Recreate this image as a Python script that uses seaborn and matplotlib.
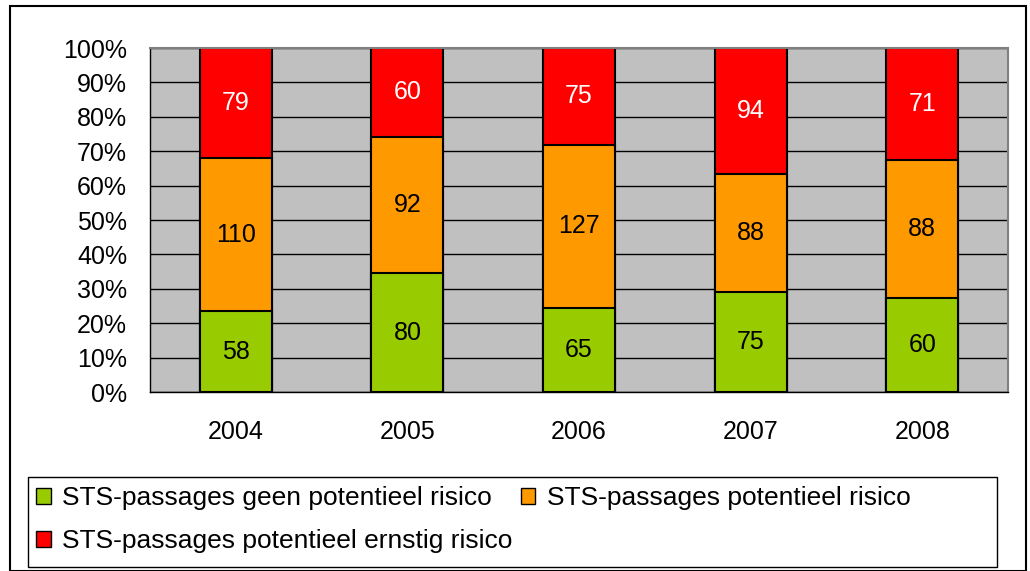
import numpy as np
import pandas as pd
import seaborn as sns
import matplotlib.pyplot as plt
from matplotlib.patches import Patch, Rectangle

# Data
years = ['2004', '2005', '2006', '2007', '2008']
geen = [58, 80, 65, 75, 60]
potentieel = [110, 92, 127, 88, 88]
ernstig = [79, 60, 75, 94, 71]
series_names = ['STS-passages geen potentieel risico',
                'STS-passages potentieel risico',
                'STS-passages potentieel ernstig risico']
kleuren = ['#99CC00', '#FF9900', '#FF0000']

sns.set_style('white')
plt.rcParams['font.family'] = ['Liberation Sans', 'DejaVu Sans']
plt.rcParams['text.color'] = 'black'

base = pd.DataFrame({'jaar': years, 'geen': geen, 'pot': potentieel, 'ernstig': ernstig})
totaal = base.geen + base.pot + base.ernstig
base['p_geen'] = base.geen / totaal * 100
base['p_pot'] = base.pot / totaal * 100
base['p_ernstig'] = base.ernstig / totaal * 100
base['cum1'] = base.p_geen
base['cum2'] = base.p_geen + base.p_pot
base['cum3'] = base.cum2 + base.p_ernstig

fig = plt.figure(figsize=(10.30, 5.71), dpi=100)
ax = fig.add_axes([150/1030, 1 - 392/571, (1008-150)/1030, (392-48)/571])
ax.set_facecolor('#C0C0C0')
ax.set_axisbelow(True)
ax.yaxis.grid(True, color='black', linewidth=1)

# gestapeld: eerst totaal, dan de lagere lagen eroverheen
sns.barplot(x='jaar', y='cum3', data=base, color=kleuren[2], width=0.42,
            edgecolor='black', linewidth=1.5, saturation=1, ax=ax)
sns.barplot(x='jaar', y='cum2', data=base, color=kleuren[1], width=0.42,
            edgecolor='black', linewidth=1.5, saturation=1, ax=ax)
sns.barplot(x='jaar', y='cum1', data=base, color=kleuren[0], width=0.42,
            edgecolor='black', linewidth=1.5, saturation=1, ax=ax)

# labels in de segmenten
fs = 18
for i in range(len(years)):
    ax.text(i, base.p_geen[i] / 2, str(geen[i]), ha='center', va='center',
            fontsize=fs, color='black')
    ax.text(i, base.cum1[i] + base.p_pot[i] / 2, str(potentieel[i]), ha='center',
            va='center', fontsize=fs, color='black')
    ax.text(i, base.cum2[i] + base.p_ernstig[i] / 2, str(ernstig[i]), ha='center',
            va='center', fontsize=fs, color='white')

ax.set_xlim(-0.5, 4.5)
ax.set_ylim(0, 100)
ax.set_yticks(np.arange(0, 101, 10))
ax.set_yticklabels([f'{v}%' for v in range(0, 101, 10)])
ax.set_xticks(np.arange(-0.5, 5, 1), minor=True)
ax.tick_params(axis='x', which='major', length=0, pad=20, labelsize=fs, labelcolor='black')
ax.tick_params(axis='x', which='minor', length=7, width=1, color='black', direction='out')
ax.tick_params(axis='y', length=6.5, width=1, color='black', direction='out',
               labelsize=fs, labelcolor='black', pad=10)
ax.set_xlabel('')
ax.set_ylabel('')

for s in ['top', 'right']:
    ax.spines[s].set_color('#808080')
    ax.spines[s].set_linewidth(1.5)
for s in ['left', 'bottom']:
    ax.spines[s].set_color('black')
    ax.spines[s].set_linewidth(1)

# legenda (zonder eigen kader, kader apart getekend)
handles = [Patch(facecolor=kleuren[0], edgecolor='black', label=series_names[0]),
           Patch(facecolor=kleuren[2], edgecolor='black', label=series_names[2]),
           Patch(facecolor=kleuren[1], edgecolor='black', label=series_names[1])]
leg = fig.legend(handles=handles, ncol=2, loc='upper left',
                 bbox_to_anchor=(36/1030, 1 - 486/571),
                 fontsize=19, frameon=False, handlelength=0.55, handleheight=0.55,
                 handletextpad=0.45, labelspacing=0.72, columnspacing=0.3,
                 borderaxespad=0, borderpad=0, labelcolor='black')
fig.patches.append(Rectangle((28/1030, 1 - 567/571), (997-28)/1030, 90/571,
                             transform=fig.transFigure, fill=False,
                             edgecolor='black', linewidth=1))

# rand om de figuur
fig.patches.append(Rectangle((10/1030, 0), (1026-10)/1030, 1 - 6/571,
                             transform=fig.transFigure, fill=False,
                             edgecolor='black', linewidth=1.5))

plt.savefig('out.png', dpi=100)
